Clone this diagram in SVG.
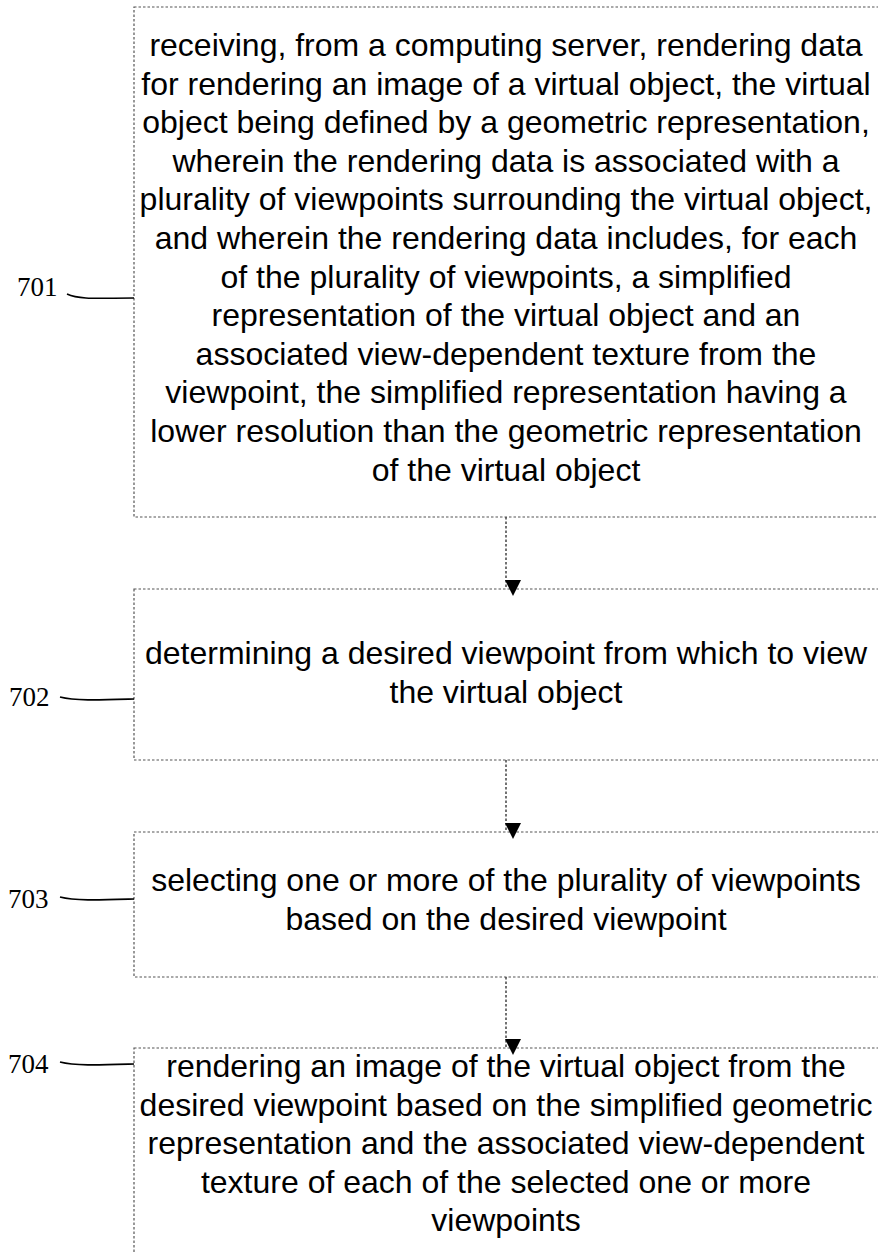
<svg xmlns="http://www.w3.org/2000/svg" width="878" height="1254" viewBox="0 0 878 1254">
<style>
.box{fill:#fff;stroke:#555;stroke-width:1.2;stroke-dasharray:2.5,2}
.t{font-family:"Liberation Sans",Arial,sans-serif;font-size:32px;fill:#000;text-anchor:middle}
.lbl{font-family:"Liberation Serif","Times New Roman",serif;font-size:27px;fill:#000}
.lead{fill:none;stroke:#000;stroke-width:1.6}
.conn{stroke:#444;stroke-width:1.5;stroke-dasharray:2.5,2;fill:none}
</style>
<defs>
<marker id="ah" markerWidth="16" markerHeight="16" refX="8" refY="15" orient="auto" markerUnits="userSpaceOnUse" viewBox="0 0 16 16">
<path d="M0,0 L16,0 L8,16 Z" fill="#000" transform="rotate(-90 8 8)"/>
</marker>
</defs>
<g id="n701">
<rect class="box" x="134" y="7" width="746" height="510"/>
<text class="t"><tspan x="506" y="56">receiving, from a computing server, rendering data</tspan><tspan x="506" y="94.6">for rendering an image of a virtual object, the virtual</tspan><tspan x="506" y="133.2">object being defined by a geometric representation,</tspan><tspan x="506" y="171.8">wherein the rendering data is associated with a</tspan><tspan x="506" y="210.4">plurality of viewpoints surrounding the virtual object,</tspan><tspan x="506" y="249">and wherein the rendering data includes, for each</tspan><tspan x="506" y="287.6">of the plurality of viewpoints, a simplified</tspan><tspan x="506" y="326.2">representation of the virtual object and an</tspan><tspan x="506" y="364.8">associated view-dependent texture from the</tspan><tspan x="506" y="403.4">viewpoint, the simplified representation having a</tspan><tspan x="506" y="442">lower resolution than the geometric representation</tspan><tspan x="506" y="480.6">of the virtual object</tspan></text>
<text class="lbl" x="17" y="296">701</text>
<path class="lead" d="M67,294 C80,300 100,298 134,298"/>
</g>
<g id="n702">
<rect class="box" x="134" y="589" width="746" height="171"/>
<text class="t"><tspan x="506" y="664">determining a desired viewpoint from which to view</tspan><tspan x="506" y="702.6">the virtual object</tspan></text>
<text class="lbl" x="9" y="706">702</text>
<path class="lead" d="M60,697 C75,701 100,700 134,699"/>
</g>
<g id="n703">
<rect class="box" x="134" y="832" width="746" height="145"/>
<text class="t"><tspan x="506" y="891">selecting one or more of the plurality of viewpoints</tspan><tspan x="506" y="929.6">based on the desired viewpoint</tspan></text>
<text class="lbl" x="8" y="908">703</text>
<path class="lead" d="M60,897 C75,901 100,900 134,899"/>
</g>
<g id="n704">
<rect class="box" x="134" y="1048" width="746" height="220"/>
<text class="t"><tspan x="506" y="1077">rendering an image of the virtual object from the</tspan><tspan x="506" y="1115.6">desired viewpoint based on the simplified geometric</tspan><tspan x="506" y="1154.2">representation and the associated view-dependent</tspan><tspan x="506" y="1192.8">texture of each of the selected one or more</tspan><tspan x="506" y="1231.4">viewpoints</tspan></text>
<text class="lbl" x="8" y="1073">704</text>
<path class="lead" d="M60,1062 C75,1066 100,1065 134,1064"/>
</g>
<g id="connectors">
<line class="conn" x1="506" y1="517" x2="506" y2="588" marker-end="url(#ah)"/>
<line class="conn" x1="506" y1="760" x2="506" y2="831" marker-end="url(#ah)"/>
<line class="conn" x1="506" y1="977" x2="506" y2="1047" marker-end="url(#ah)"/>
</g>
</svg>
